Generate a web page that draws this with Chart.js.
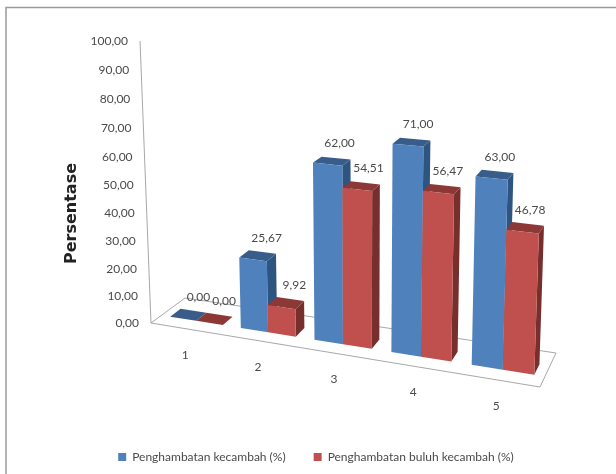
<!DOCTYPE html>
<html>
<head>
<meta charset="utf-8">
<style>
  html, body { margin: 0; padding: 0; background: #fff; }
  canvas { display: block; }
</style>
<script src="https://cdn.jsdelivr.net/npm/chart.js@4"></script>
</head>
<body>
<canvas id="chart" width="616" height="474"></canvas>
<script>
const categories = ['1', '2', '3', '4', '5'];
const kecambah = [0.00, 25.67, 62.00, 71.00, 63.00];
const buluhKecambah = [0.00, 9.92, 54.51, 56.47, 46.78];

const LABEL_FONT = '12px Lato';
const TEXT_COLOR = '#4a4a4a';
const LINE_COLOR = '#a8a8a8';

// Corners of the 3D floor on the canvas
const FLOOR = { fl: [151, 323], fr: [540, 387], br: [556, 353], bl: [185, 298] };
const WALL_HEIGHT = 282;
const BAR_DEPTH = [0.31, 0.62];

// Foreshortening shared by the category and value directions
const ease = (t, c) => t * (1 - c) / (1 - c * t);

// u along the categories, v up the value axis, d into the floor (all 0..1)
function project(u, v, d) {
  const t = ease(u, 0.102);
  const lx = FLOOR.fl[0] + (FLOOR.bl[0] - FLOOR.fl[0]) * d;
  const ly = FLOOR.fl[1] + (FLOOR.bl[1] - FLOOR.fl[1]) * d;
  const rx = FLOOR.fr[0] + (FLOOR.br[0] - FLOOR.fr[0]) * d;
  const ry = FLOOR.fr[1] + (FLOOR.br[1] - FLOOR.fr[1]) * d;
  const bx = lx + (rx - lx) * t;
  const by = ly + (ry - ly) * t;
  const h = WALL_HEIGHT * ease(v, 0.047) * (1 + 0.08 * (by - 323) / 42);
  return [bx + h * 0.000185 * (bx - 361), by - h];
}

function face(ctx, pts, color) {
  ctx.beginPath();
  pts.forEach((p, i) => i ? ctx.lineTo(p[0], p[1]) : ctx.moveTo(p[0], p[1]));
  ctx.closePath();
  ctx.fillStyle = color;
  ctx.fill();
}

function line(ctx, a, b) {
  ctx.beginPath();
  ctx.moveTo(a[0], a[1]);
  ctx.lineTo(b[0], b[1]);
  ctx.stroke();
}

const shades = [
  { front: '#4f81bd', top: '#385d8a', side: '#2e5480' },
  { front: '#c0504d', top: '#8c3836', side: '#772f2d' }
];

const fmt = v => v.toFixed(2).replace('.', ',');

const bars3d = {
  id: 'bars3d',
  beforeDraw(chart) {
    const { ctx, width, height } = chart;
    ctx.save();
    ctx.fillStyle = '#fff';
    ctx.fillRect(0, 0, width, height);
    ctx.strokeStyle = '#9a9a9a';
    ctx.lineWidth = 1.5;
    ctx.beginPath();
    ctx.moveTo(6, height);
    ctx.lineTo(6, 7.5);
    ctx.lineTo(width, 7.5);
    ctx.stroke();
    ctx.restore();
  },
  // 3D faces replace the flat bars, so the native dataset draw is cancelled
  beforeDatasetsDraw(chart) {
    const { ctx, chartArea: area, scales } = chart;
    const toU = px => (px - area.left) / (area.right - area.left);
    const toV = py => (area.bottom - py) / (area.bottom - area.top);

    ctx.save();
    ctx.strokeStyle = LINE_COLOR;
    ctx.lineWidth = 1;
    line(ctx, project(0, 1, 0), project(0, 0, 0));
    line(ctx, project(0, 0, 0), project(1, 0, 0));
    line(ctx, project(1, 0, 0), project(1, 0, 1));
    line(ctx, project(1, 0, 1), project(0, 0, 1));
    line(ctx, project(0, 0, 1), project(0, 0, 0));

    // value axis labels follow the slanted wall edge
    ctx.font = LABEL_FONT;
    ctx.fillStyle = TEXT_COLOR;
    ctx.textAlign = 'right';
    ctx.textBaseline = 'middle';
    scales.y.ticks.forEach(t => {
      const p = project(0, toV(scales.y.getPixelForValue(t.value)), 0);
      ctx.fillText(fmt(t.value), p[0] - 12, p[1]);
    });

    // category labels under the front floor edge
    ctx.textAlign = 'center';
    categories.forEach((c, i) => {
      const p = project(toU(scales.x.getPixelForValue(i)), 0, 0);
      ctx.fillText(c, p[0] - 1, p[1] + 26);
    });

    const [d0, d1] = BAR_DEPTH;
    const labels = [];
    categories.forEach((c, i) => {
      chart.data.datasets.forEach((ds, s) => {
        const el = chart.getDatasetMeta(s).data[i];
        const u0 = toU(el.x - el.width / 2), u1 = toU(el.x + el.width / 2);
        const v = toV(el.y);
        const col = shades[s];
        face(ctx, [project(u1, 0, d0), project(u1, 0, d1), project(u1, v, d1), project(u1, v, d0)], col.side);
        face(ctx, [project(u0, v, d0), project(u1, v, d0), project(u1, v, d1), project(u0, v, d1)], col.top);
        face(ctx, [project(u0, 0, d0), project(u1, 0, d0), project(u1, v, d0), project(u0, v, d0)], col.front);
        const mid = project((u0 + u1) / 2, v, (d0 + d1) / 2);
        labels.push([fmt(ds.data[i]), mid[0] + 10.5 - 6 * toU(el.x), mid[1] - 18]);
      });
    });

    ctx.fillStyle = TEXT_COLOR;
    labels.forEach(l => ctx.fillText(l[0], l[1], l[2]));
    ctx.restore();
    return false;
  }
};

new Chart(document.getElementById('chart'), {
  type: 'bar',
  data: {
    labels: categories,
    datasets: [
      { label: 'Penghambatan kecambah (%)', data: kecambah, backgroundColor: shades[0].front },
      { label: 'Penghambatan buluh kecambah (%)', data: buluhKecambah, backgroundColor: shades[1].front }
    ]
  },
  plugins: [bars3d],
  options: {
    responsive: false,
    animation: false,
    layout: { padding: { left: 62, right: 46, top: 6, bottom: 1 } },
    categoryPercentage: 0.75,
    barPercentage: 1,
    scales: {
      x: {
        grid: { display: false },
        border: { display: false },
        ticks: { display: false },
        afterFit(scale) { scale.height = 2; }
      },
      y: {
        min: 0,
        max: 100,
        ticks: { display: false, stepSize: 10 },
        grid: { display: false },
        border: { display: false },
        title: {
          display: true,
          text: 'Persentase',
          color: '#222',
          font: { family: 'DejaVu Sans', size: 16, weight: 'bold' },
          padding: 0
        }
      }
    },
    plugins: {
      tooltip: { enabled: false },
      legend: {
        position: 'bottom',
        labels: {
          boxWidth: 8,
          boxHeight: 8,
          padding: 28,
          color: TEXT_COLOR,
          font: { family: 'Lato', size: 12 }
        }
      }
    }
  }
});
</script>
</body>
</html>
